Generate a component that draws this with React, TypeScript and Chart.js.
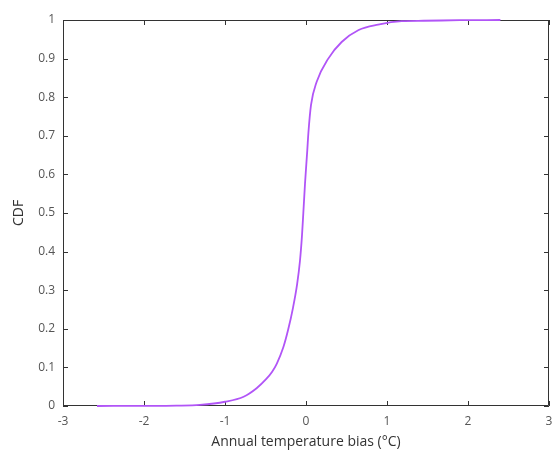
import React, { useEffect, useRef } from "react";
import { Chart, registerables } from "chart.js";

Chart.register(...registerables);

const biasValues = [-2.58, -2.0, -1.6, -1.31, -1.0, -0.77, -0.61, -0.49, -0.42, -0.36, -0.28, -0.22, -0.16, -0.11, -0.075, -0.05, -0.033, -0.012, 0.016, 0.029, 0.062, 0.132, 0.275, 0.44, 0.65, 0.89, 1.18, 1.45, 1.9, 2.4];
const cdfValues = [0.0, 0.0003, 0.001, 0.003, 0.011, 0.024, 0.046, 0.07, 0.088, 0.11, 0.152, 0.198, 0.255, 0.315, 0.375, 0.44, 0.5, 0.577, 0.663, 0.706, 0.78, 0.84, 0.9, 0.943, 0.974, 0.988, 0.997, 0.998, 0.9995, 1.0];

const xTicks = [-3, -2, -1, 0, 1, 2, 3];
const yTicks = [0, 0.1, 0.2, 0.3, 0.4, 0.5, 0.6, 0.7, 0.8, 0.9, 1];

const xTitle = "Annual temperature bias (°C)";
const yTitle = "CDF";

const boxPlugin = {
  id: "boxTicks",
  beforeDatasetsDraw(chart: any) {
    const { ctx, chartArea } = chart;
    const xs = chart.scales.x;
    const ys = chart.scales.y;
    const L = 5;
    ctx.save();
    ctx.strokeStyle = "#333333";
    ctx.lineWidth = 1;
    ctx.beginPath();
    ctx.rect(chartArea.left + 0.5, chartArea.top + 0.5, chartArea.right - chartArea.left - 1, chartArea.bottom - chartArea.top - 1);
    ctx.stroke();
    ctx.beginPath();
    xTicks.forEach((v) => {
      const px = Math.round(xs.getPixelForValue(v)) + 0.5;
      ctx.moveTo(px, chartArea.bottom);
      ctx.lineTo(px, chartArea.bottom - L);
      ctx.moveTo(px, chartArea.top);
      ctx.lineTo(px, chartArea.top + L);
    });
    yTicks.forEach((v) => {
      const py = Math.round(ys.getPixelForValue(v)) + 0.5;
      ctx.moveTo(chartArea.left, py);
      ctx.lineTo(chartArea.left + L, py);
      ctx.moveTo(chartArea.right, py);
      ctx.lineTo(chartArea.right - L, py);
    });
    ctx.stroke();
    ctx.restore();
  },
};

export default function App() {
  const ref = useRef<HTMLCanvasElement>(null);
  useEffect(() => {
    if (!ref.current) return;
    const font = { family: "'Open Sans', 'Noto Sans', sans-serif", size: 12 };
    const chart = new Chart(ref.current, {
      type: "scatter",
      data: {
        datasets: [
          {
            data: biasValues.map((x, i) => ({ x, y: cdfValues[i] })),
            showLine: true,
            borderColor: "#b155f7",
            backgroundColor: "#b155f7",
            borderWidth: 1.8,
            pointRadius: 0,
            cubicInterpolationMode: "monotone",
            clip: false,
          },
        ],
      },
      options: {
        responsive: false,
        animation: false,
        layout: { padding: { left: 0, right: 3, top: 20, bottom: 0 } },
        plugins: { legend: { display: false }, tooltip: { enabled: false } },
        scales: {
          x: {
            type: "linear",
            min: -3,
            max: 3,
            afterFit: (s: any) => { s.height = 44; s.paddingLeft = 0; s.paddingRight = 0; },
            afterBuildTicks: (s: any) => { s.ticks = xTicks.map((v) => ({ value: v })); },
            ticks: { color: "#555555", font, padding: 8, maxRotation: 0, callback: (v: any) => String(v) },
            grid: { display: true, drawOnChartArea: false, drawTicks: false },
            border: { display: false },
            title: { display: true, text: xTitle, color: "#333333", font: { family: font.family, size: 14 }, padding: { top: 4, bottom: 0 } },
          },
          y: {
            type: "linear",
            min: 0,
            max: 1,
            afterFit: (s: any) => { s.width = 63; s.paddingTop = 0; s.paddingBottom = 0; },
            afterBuildTicks: (s: any) => { s.ticks = yTicks.map((v) => ({ value: v })); },
            ticks: { color: "#555555", font, padding: 8, callback: (v: any) => String(Math.round(v * 10) / 10) },
            grid: { display: true, drawOnChartArea: false, drawTicks: false },
            border: { display: false },
            title: { display: true, text: yTitle, color: "#333333", font: { family: font.family, size: 14 }, padding: { top: 11, bottom: 4 } },
          },
        },
      },
      plugins: [boxPlugin],
    } as any);
    return () => chart.destroy();
  }, []);
  return (
    <div style={{ position: "absolute", left: 0, top: 0, width: 552, height: 450, background: "#ffffff" }}>
      <canvas ref={ref} width={552} height={450} />
    </div>
  );
}
